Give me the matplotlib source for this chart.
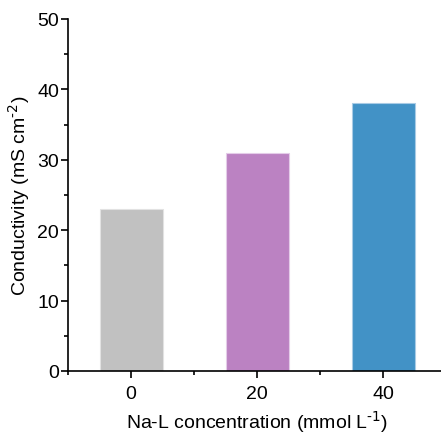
import matplotlib
matplotlib.use("Agg")
import matplotlib.pyplot as plt
from matplotlib.ticker import MultipleLocator

plt.rcParams['font.family'] = ['Liberation Sans', 'DejaVu Sans']
plt.rcParams['mathtext.default'] = 'regular'

categories = [0, 20, 40]
values = [23, 31, 38]
colors = ['#C1C1C1', '#BB82C2', '#4292C6']
edge_colors = ['#E2E2E2', '#E4CCE8', '#A9CBE5']

fig = plt.figure(figsize=(4.41, 4.39), dpi=100)
ax = fig.add_axes([68/441, (439-372)/439, (446-68)/441, (372-20)/439])

ax.bar(categories, values, width=10, color=colors, edgecolor=edge_colors, linewidth=0.8, zorder=2)

ax.set_xlim(-10, 50)
ax.set_ylim(0, 50)
ax.set_xticks(categories)
ax.xaxis.set_minor_locator(MultipleLocator(10))
ax.yaxis.set_major_locator(MultipleLocator(10))
ax.yaxis.set_minor_locator(MultipleLocator(5))

for s in ['top', 'right']:
    ax.spines[s].set_visible(False)
for s in ['left', 'bottom']:
    ax.spines[s].set_linewidth(1.2)

ax.tick_params(axis='both', which='major', direction='out', length=5, width=1.2, labelsize=14)
ax.tick_params(axis='both', which='minor', direction='out', length=3, width=1.2)
ax.tick_params(axis='x', which='major', pad=5)
ax.tick_params(axis='y', which='major', pad=1.5)

ax.set_xlabel(r'Na-L concentration (mmol L$^{\text{-1}}$)', fontsize=14)
ax.set_ylabel(r'Conductivity (mS cm$^{\text{-2}}$)', fontsize=14)
ax.xaxis.set_label_coords(0.5, (372-410)/352)
ax.yaxis.set_label_coords((32-68)/378, 0.5)

fig.savefig('out.png', dpi=100)
